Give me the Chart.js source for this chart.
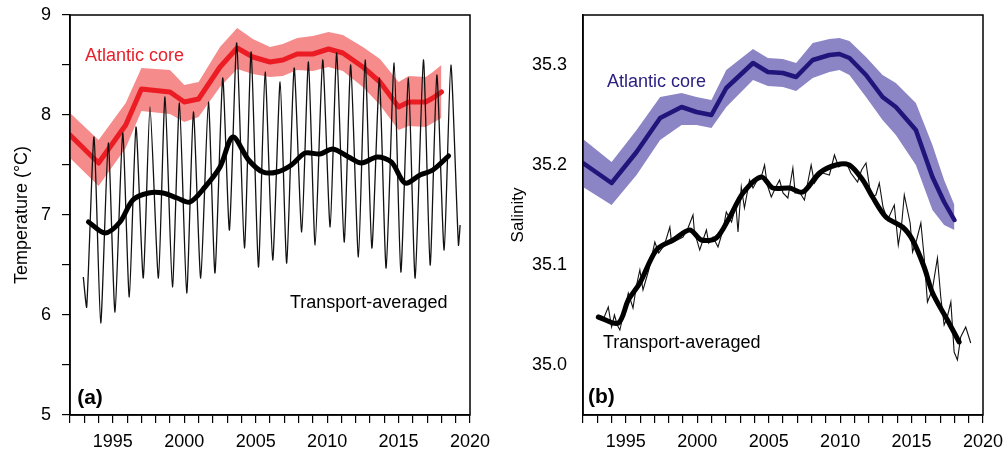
<!DOCTYPE html>
<html>
<head>
<meta charset="utf-8">
<script src="https://cdn.jsdelivr.net/npm/chart.js@4.4.1/dist/chart.umd.min.js"></script>
<style>
  html, body { margin: 0; padding: 0; background: #fff; }
  #wrap { position: relative; width: 1005px; height: 456px; }
  #wrap canvas { position: absolute; top: 0; }
</style>
</head>
<body>
<div id="wrap">
  <canvas id="tempChart" width="500" height="456" style="left:0"></canvas>
  <canvas id="salChart" width="505" height="456" style="left:500px"></canvas>
</div>
<script>
// tick labels
const yearTicks = [1995, 2000, 2005, 2010, 2015, 2020];
const tempTicks = [5, 6, 7, 8, 9];
const salTicks = [35.0, 35.1, 35.2, 35.3];

// ---- (a) temperature ----
const tempCoreYears = [1992, 1994, 1995.9, 1997, 1999, 2000, 2001, 2002.5, 2003.7, 2004.8, 2006, 2006.9, 2007.9, 2009, 2010.1, 2011.1, 2012.5, 2013.7, 2015, 2015.7, 2016.9, 2017.4, 2018];
const tempCore     = [7.80, 7.52, 7.90, 8.26, 8.23, 8.13, 8.16, 8.48, 8.67, 8.58, 8.53, 8.55, 8.61, 8.61, 8.66, 8.62, 8.48, 8.33, 8.08, 8.13, 8.13, 8.17, 8.23];
const tempCoreHigh = [8.02, 7.75, 8.12, 8.47, 8.45, 8.30, 8.33, 8.68, 8.87, 8.76, 8.68, 8.71, 8.77, 8.79, 8.83, 8.80, 8.68, 8.56, 8.33, 8.39, 8.38, 8.43, 8.50];
const tempCoreLow  = [7.57, 7.29, 7.67, 8.04, 8.01, 7.93, 7.98, 8.28, 8.46, 8.41, 8.38, 8.39, 8.45, 8.44, 8.48, 8.44, 8.28, 8.10, 7.85, 7.89, 7.88, 7.92, 7.97];

const tempTransYears = [1993.3, 1994.45, 1995.5, 1996.4, 1997.5, 1998.5, 1999.5, 2000.4, 2001.45, 2002.5, 2003.4, 2004.5, 2005.5, 2006.5, 2007.5, 2008.45, 2009.5, 2010.4, 2011.5, 2012.4, 2013.5, 2014.5, 2015.45, 2016.5, 2017.4, 2018.5];
const tempTrans      = [6.93, 6.82, 6.93, 7.15, 7.22, 7.22, 7.17, 7.13, 7.28, 7.48, 7.78, 7.55, 7.43, 7.43, 7.50, 7.62, 7.61, 7.66, 7.58, 7.52, 7.58, 7.53, 7.32, 7.40, 7.45, 7.59];

const tempSeasonYears = [1992.93, 1993.17, 1993.68, 1994.15, 1994.68, 1995.15, 1995.69, 1996.15, 1996.62, 1997.13, 1997.60, 1998.19, 1998.65, 1999.17, 1999.66, 2000.17, 2000.64, 2001.15, 2001.69, 2002.15, 2002.69, 2003.16, 2003.67, 2004.21, 2004.68, 2005.19, 2005.66, 2006.19, 2006.71, 2007.17, 2007.69, 2008.22, 2008.69, 2009.16, 2009.69, 2010.21, 2010.67, 2011.19, 2011.65, 2012.19, 2012.66, 2013.13, 2013.66, 2014.13, 2014.69, 2015.16, 2015.69, 2016.16, 2016.74, 2017.21, 2017.68, 2018.19, 2018.66, 2019.19, 2019.31];
const tempSeason      = [6.38, 6.08, 7.78, 5.92, 7.72, 6.03, 7.82, 6.18, 7.88, 6.37, 8.08, 6.37, 8.18, 6.28, 8.12, 6.22, 8.03, 6.37, 8.13, 6.42, 8.37, 6.85, 8.72, 6.67, 8.63, 6.48, 8.43, 6.55, 8.33, 6.52, 8.47, 6.83, 8.53, 6.70, 8.55, 6.88, 8.62, 6.73, 8.50, 6.58, 8.55, 6.67, 8.37, 6.47, 8.52, 6.43, 8.37, 6.37, 8.55, 6.50, 8.40, 6.65, 8.50, 6.70, 6.90];

// ---- (b) salinity ----
const salCoreYears = [1992, 1994, 1995.75, 1997.4, 1998.9, 1999.94, 2000.99, 2002.03, 2003.9, 2004.94, 2005.99, 2006.92, 2008.08, 2009.25, 2009.95, 2010.65, 2011.81, 2012.97, 2013.9, 2015.3, 2016.46, 2017.28, 2018.0];
const salCore     = [35.202, 35.182, 35.213, 35.247, 35.258, 35.253, 35.250, 35.277, 35.302, 35.293, 35.292, 35.288, 35.305, 35.310, 35.311, 35.307, 35.290, 35.268, 35.258, 35.235, 35.188, 35.163, 35.145];
const salCoreHigh = [35.226, 35.203, 35.235, 35.268, 35.272, 35.268, 35.265, 35.295, 35.316, 35.307, 35.306, 35.302, 35.322, 35.326, 35.327, 35.324, 35.308, 35.290, 35.282, 35.262, 35.220, 35.185, 35.160];
const salCoreLow  = [35.178, 35.160, 35.190, 35.225, 35.240, 35.240, 35.237, 35.258, 35.285, 35.279, 35.278, 35.274, 35.287, 35.293, 35.295, 35.290, 35.268, 35.245, 35.230, 35.200, 35.155, 35.140, 35.135];

const salTransYears = [1993.07, 1994.47, 1995.17, 1995.98, 1997.14, 1998.31, 1999.47, 2000.29, 2001.33, 2002.27, 2003.2, 2004.48, 2005.29, 2006.46, 2007.39, 2008.55, 2009.71, 2010.64, 2011.58, 2012.27, 2013.2, 2014.37, 2015.07, 2015.88, 2016.47, 2017.51, 2018.33];
const salTrans      = [35.048, 35.042, 35.065, 35.082, 35.115, 35.125, 35.135, 35.125, 35.127, 35.148, 35.172, 35.188, 35.177, 35.177, 35.173, 35.192, 35.200, 35.200, 35.185, 35.168, 35.148, 35.138, 35.125, 35.098, 35.072, 35.045, 35.023];

const salMonthYears = [1993.07, 1993.4, 1993.77, 1994.0, 1994.2, 1994.4, 1994.58, 1994.9, 1995.17, 1995.5, 1995.75, 1995.98, 1996.2, 1996.6, 1997.03, 1997.3, 1997.7, 1998.08, 1998.2, 1998.6, 1999.0, 1999.35, 1999.7, 1999.8, 2000.17, 2000.4, 2000.64, 2000.8, 2001.1, 2001.45, 2001.8, 2002.03, 2002.4, 2002.7, 2002.85, 2003.08, 2003.3, 2003.66, 2003.9, 2004.2, 2004.48, 2004.71, 2004.9, 2005.18, 2005.5, 2005.76, 2006.0, 2006.34, 2006.69, 2006.85, 2007.15, 2007.5, 2007.97, 2008.2, 2008.5, 2008.78, 2009.25, 2009.6, 2009.9, 2010.41, 2010.75, 2011.22, 2011.5, 2011.81, 2012.16, 2012.5, 2012.74, 2013.0, 2013.32, 2013.79, 2014.07, 2014.3, 2014.49, 2014.9, 2015.07, 2015.35, 2015.65, 2015.88, 2016.11, 2016.45, 2016.81, 2017.05, 2017.28, 2017.5, 2017.75, 2017.98, 2018.21, 2018.44, 2018.79, 2019.14];
const salMonth      = [35.050, 35.045, 35.058, 35.038, 35.050, 35.040, 35.035, 35.055, 35.072, 35.057, 35.080, 35.095, 35.075, 35.095, 35.123, 35.112, 35.120, 35.138, 35.122, 35.125, 35.128, 35.137, 35.150, 35.133, 35.115, 35.125, 35.135, 35.122, 35.128, 35.118, 35.135, 35.153, 35.143, 35.160, 35.133, 35.178, 35.157, 35.185, 35.177, 35.185, 35.188, 35.200, 35.180, 35.168, 35.178, 35.185, 35.172, 35.167, 35.197, 35.172, 35.173, 35.165, 35.200, 35.182, 35.188, 35.192, 35.190, 35.210, 35.198, 35.203, 35.192, 35.183, 35.195, 35.202, 35.168, 35.170, 35.182, 35.158, 35.145, 35.160, 35.120, 35.140, 35.170, 35.142, 35.113, 35.125, 35.142, 35.108, 35.063, 35.075, 35.107, 35.067, 35.040, 35.048, 35.063, 35.013, 35.005, 35.028, 35.038, 35.022];

const FONT = '"Liberation Sans", Arial, Helvetica, sans-serif';

const pts = (xs, ys) => xs.map((x, i) => ({ x, y: ys[i] }));
const near = (v, list) => list.some(t => Math.abs(t - v) < 1e-6);

// frame round the plot area + in-plot text labels
const framePlugin = {
  id: 'frame',
  afterDraw(chart, args, opts) {
    const { ctx, chartArea: a, scales } = chart;
    ctx.save();
    ctx.strokeStyle = '#000';
    ctx.lineWidth = 1.5;
    ctx.strokeRect(a.left, a.top, a.right - a.left, a.bottom - a.top);
    (opts.labels || []).forEach(l => {
      ctx.font = l.font;
      ctx.fillStyle = l.color;
      ctx.textAlign = 'left';
      ctx.textBaseline = 'middle';
      ctx.fillText(l.text, scales.x.getPixelForValue(l.x), scales.y.getPixelForValue(l.y));
    });
    ctx.restore();
  }
};

function xAxis() {
  return {
    type: 'linear', min: 1992, max: 2020,
    afterFit: s => { s.height = 41; s.paddingLeft = 0; s.paddingRight = 0; },
    border: { color: '#000', width: 1.5 },
    grid: { drawOnChartArea: false, color: '#000', lineWidth: 1.2, tickLength: 8 },
    ticks: {
      stepSize: 1, autoSkip: false, maxRotation: 0, color: '#000', padding: 8,
      font: { family: FONT, size: 18 },
      callback: v => (near(v, yearTicks) ? String(v) : '')
    }
  };
}

function bandSets(xs, hi, lo, core, bandColor, lineColor, lineWidth) {
  return [
    { data: pts(xs, hi), borderWidth: 0, backgroundColor: bandColor, fill: '+1', order: 5 },
    { data: pts(xs, lo), borderWidth: 0, backgroundColor: bandColor, fill: false, order: 5 },
    { data: pts(xs, core), borderColor: lineColor, borderWidth: lineWidth, fill: false, order: 4,
      borderCapStyle: 'round', borderJoinStyle: 'round' }
  ];
}

const common = {
  responsive: false,
  animation: false,
  elements: { point: { radius: 0, hoverRadius: 0 }, line: { tension: 0 } },
  plugins: { legend: { display: false }, tooltip: { enabled: false } }
};

new Chart(document.getElementById('tempChart').getContext('2d'), {
  type: 'line',
  data: {
    datasets: [
      ...bandSets(tempCoreYears, tempCoreHigh, tempCoreLow, tempCore, '#f58b8b', '#ec1c24', 5),
      { data: pts(tempSeasonYears, tempSeason), borderColor: '#111', borderWidth: 1.3, fill: false, order: 2, tension: 0.2 },
      { data: pts(tempTransYears, tempTrans), borderColor: '#000', borderWidth: 5, fill: false, order: 1, tension: 0.3,
        borderCapStyle: 'round', borderJoinStyle: 'round' }
    ]
  },
  options: {
    ...common,
    layout: { padding: { top: 15, right: 30, left: 0, bottom: 0 } },
    scales: {
      x: xAxis(),
      y: {
        min: 5, max: 9,
        afterFit: s => { s.width = 70; s.paddingTop = 0; s.paddingBottom = 0; },
        border: { color: '#000', width: 1.5 },
        grid: { drawOnChartArea: false, color: '#000', lineWidth: 1.2, tickLength: 8 },
        ticks: {
          stepSize: 0.5, color: '#000', padding: 11,
          font: { family: FONT, size: 18 },
          callback: v => (near(v, tempTicks) ? String(v) : '')
        },
        title: { display: true, text: 'Temperature (°C)', color: '#000',
          font: { family: FONT, size: 18 }, padding: { top: 11, bottom: 0 } }
      }
    },
    plugins: {
      ...common.plugins,
      frame: { labels: [
        { text: 'Atlantic core', x: 1993.05, y: 8.59, color: '#e8202a', font: '18px ' + FONT },
        { text: 'Transport-averaged', x: 2007.4, y: 6.12, color: '#000', font: '18px ' + FONT },
        { text: '(a)', x: 1992.5, y: 5.17, color: '#000', font: 'bold 21px ' + FONT }
      ] }
    }
  },
  plugins: [framePlugin]
});

new Chart(document.getElementById('salChart').getContext('2d'), {
  type: 'line',
  data: {
    datasets: [
      ...bandSets(salCoreYears, salCoreHigh, salCoreLow, salCore, '#8b85c6', '#21147a', 4.5),
      { data: pts(salMonthYears, salMonth), borderColor: '#111', borderWidth: 1.1, fill: false, order: 2 },
      { data: pts(salTransYears, salTrans), borderColor: '#000', borderWidth: 5, fill: false, order: 1, tension: 0.3,
        borderCapStyle: 'round', borderJoinStyle: 'round' }
    ]
  },
  options: {
    ...common,
    layout: { padding: { top: 15, right: 22, left: 0, bottom: 0 } },
    scales: {
      x: xAxis(),
      y: {
        min: 34.95, max: 35.35,
        afterBuildTicks: s => { s.ticks = salTicks.map(v => ({ value: v })); },
        afterFit: s => { s.width = 83; s.paddingTop = 0; s.paddingBottom = 0; },
        border: { color: '#000', width: 1.5 },
        grid: { display: false, drawTicks: false },
        ticks: {
          color: '#000', padding: 16,
          font: { family: FONT, size: 18 },
          callback: v => Number(v).toFixed(1)
        },
        title: { display: true, text: 'Salinity', color: '#000',
          font: { family: FONT, size: 17 }, padding: { top: 8, bottom: 0 } }
      }
    },
    plugins: {
      ...common.plugins,
      frame: { labels: [
        { text: 'Atlantic core', x: 1993.68, y: 35.283, color: '#2a2183', font: '18px ' + FONT },
        { text: 'Transport-averaged', x: 1993.4, y: 35.022, color: '#000', font: '18px ' + FONT },
        { text: '(b)', x: 1992.35, y: 34.968, color: '#000', font: 'bold 21px ' + FONT }
      ] }
    }
  },
  plugins: [framePlugin]
});
</script>
</body>
</html>
